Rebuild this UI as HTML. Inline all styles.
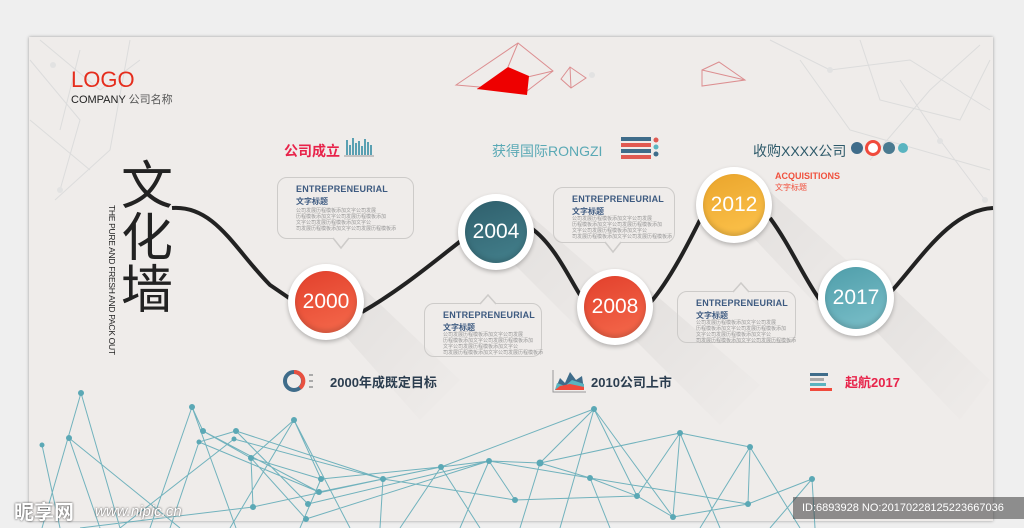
<!DOCTYPE html>
<html><head><meta charset="utf-8"><style>
*{margin:0;padding:0;box-sizing:border-box}
body{width:1024px;height:528px;background:#efefef;position:relative;overflow:hidden;font-family:"Liberation Sans","Noto Sans CJK SC",sans-serif}
.panel{position:absolute;left:29px;top:37px;width:964px;height:484px;background:#efecea;box-shadow:0 0 3px rgba(0,0,0,.35)}
.a{position:absolute;white-space:nowrap}
.bub{position:absolute;border:1.5px solid #cdcbc9;border-radius:10px}
.bub .t{position:absolute;left:18px;top:6px;font-size:9px;font-weight:bold;color:#3d5a80;letter-spacing:.2px;white-space:nowrap}
.bub .s{position:absolute;left:18px;top:18px;font-size:8px;font-weight:bold;color:#3d5a80;white-space:nowrap}
.bub .l{position:absolute;left:18px;top:30px;font-size:10px;line-height:12px;color:#999;transform:scale(.5);transform-origin:0 0;white-space:nowrap}
.yr{position:absolute;width:76px;height:76px;border-radius:50%;background:#fff;box-shadow:0 2px 4px rgba(0,0,0,.25)}
.yr div{position:absolute;left:7px;top:7px;width:62px;height:62px;border-radius:50%;color:#fff;font-size:21px;text-align:center;line-height:62px;box-shadow:inset 0 -3px 5px rgba(0,0,0,.15)}
</style></head><body>
<div class="panel"></div>
<svg class="a" style="left:0;top:0" width="1024" height="528">
<defs><linearGradient id="sh" x1="0" y1="0" x2="1" y2="1"><stop offset="0" stop-color="#000" stop-opacity=".05"/><stop offset="1" stop-color="#000" stop-opacity="0"/></linearGradient></defs>
<g fill="url(#sh)">
<polygon points="340,330 360,285 460,380 420,420"/>
<polygon points="510,260 530,215 640,310 600,350"/>
<polygon points="630,335 650,290 760,385 720,425"/>
<polygon points="748,232 768,190 880,290 840,330"/>
<polygon points="870,325 890,285 990,380 960,420"/>
</g>
<g stroke="#dcdcdc" stroke-width="1" fill="none">
<path d="M30,60 L80,120 L60,190 M40,40 L100,90 L140,60 M55,200 L110,150 L130,40 M30,120 L90,170 M80,50 L60,130"/>
<path d="M770,40 L830,70 L910,60 L990,110 M860,40 L880,100 L960,120 L990,60 M800,60 L850,130 L990,170 M900,80 L940,140 L985,200 M980,45 L930,90 L870,160"/>
</g>
<g fill="#e2e2e2"><circle cx="53" cy="65" r="3"/><circle cx="60" cy="190" r="3"/><circle cx="830" cy="70" r="3"/><circle cx="940" cy="141" r="3"/><circle cx="985" cy="200" r="3"/><circle cx="592" cy="75" r="3"/></g>
<g stroke="#dc8e90" stroke-width="1" fill="none">
<polygon points="456,85 518,43 553,71 527,91"/><polyline points="508,67 518,43"/><polyline points="477,89 553,71"/>
<polygon points="561,79 570,67 586,78 571,88"/><line x1="570" y1="67" x2="571" y2="88"/>
<polygon points="702,70 719,62 745,80 702,86"/><line x1="702" y1="70" x2="745" y2="80"/>
</g>
<polygon points="477,89 508,67 529,76 527,95" fill="#e00"/>
<path d="M172,208 C215,205 235,250 270,285 L292,300 M362,312 C400,290 430,265 462,240 M531,228 C555,245 570,280 582,298 M650,303 C670,280 690,240 700,220 M770,218 C790,245 805,280 820,300 M890,293 C920,260 950,210 993,208" stroke="#222" stroke-width="4" fill="none"/>
<g stroke="#5ba8b5" stroke-width="1" fill="none" opacity=".85">
<path d="M81,393 L120,528 M81,393 L42,528 M192,407 L150,528 M192,407 L203,431 L251,458 L321,479 M192,407 L236,528 M42,445 L60,528 M69,438 L180,528 M69,438 L100,528 M203,431 L319,492 M236,431 L199,442 L170,528 M236,431 L308,504 M234,439 L120,528 M234,439 L383,479 M294,420 L251,458 M294,420 L321,479 M294,420 L230,528 M294,420 L350,528 M251,458 L306,519 M251,458 L253,507 M321,479 L441,467 M319,492 L383,479 M319,492 L441,467 M308,504 L489,461 M253,507 L383,479 M253,507 L80,528 M383,479 L441,467 L489,461 L540,463 L590,478 L637,496 L673,517 M441,467 L594,409 M441,467 L400,528 M441,467 L480,528 M489,461 L515,500 M540,463 L594,409 M540,463 L680,433 M489,461 L590,478 M383,479 L515,500 L637,496 M594,409 L637,496 M594,409 L673,517 M594,409 L560,528 M680,433 L750,447 M680,433 L673,517 M680,433 L637,496 M680,433 L720,528 M750,447 L748,504 M750,447 L700,528 M750,447 L800,528 M812,479 L748,504 L673,517 M812,479 L770,528 M812,479 L815,528 M748,504 L590,478 M540,463 L520,528 M489,461 L460,528 M383,479 L380,528 M321,479 L300,528 M306,519 L489,461 M199,442 L319,492 M236,431 L383,479 M590,478 L610,528 M680,433 L540,463"/>
</g>
<g fill="#5ba8b5">
<circle cx="81" cy="393" r="3"/><circle cx="192" cy="407" r="3"/><circle cx="42" cy="445" r="2.5"/><circle cx="69" cy="438" r="3"/><circle cx="203" cy="431" r="3"/><circle cx="236" cy="431" r="3"/><circle cx="199" cy="442" r="2.5"/><circle cx="234" cy="439" r="2.5"/><circle cx="294" cy="420" r="3"/><circle cx="251" cy="458" r="3"/><circle cx="321" cy="479" r="3"/><circle cx="319" cy="492" r="3"/><circle cx="308" cy="504" r="3"/><circle cx="253" cy="507" r="3"/><circle cx="383" cy="479" r="3"/><circle cx="441" cy="467" r="3"/><circle cx="489" cy="461" r="3"/><circle cx="540" cy="463" r="3.5"/><circle cx="594" cy="409" r="3"/><circle cx="680" cy="433" r="3"/><circle cx="750" cy="447" r="3"/><circle cx="590" cy="478" r="3"/><circle cx="637" cy="496" r="3"/><circle cx="515" cy="500" r="3"/><circle cx="812" cy="479" r="3"/><circle cx="748" cy="504" r="3"/><circle cx="673" cy="517" r="3"/><circle cx="306" cy="519" r="3"/>
</g>
<g fill="#5aa0b2"><rect x="346" y="140" width="2" height="15"/><rect x="349" y="145" width="2" height="10"/><rect x="352" y="138" width="2" height="17"/><rect x="355" y="143" width="2" height="12"/><rect x="358" y="141" width="2" height="14"/><rect x="361" y="146" width="2" height="9"/><rect x="364" y="139" width="2" height="16"/><rect x="367" y="142" width="2" height="13"/><rect x="370" y="145" width="2" height="10"/></g>
<line x1="344" y1="156" x2="374" y2="156" stroke="#999"/>
<g><rect x="621" y="137" width="30" height="4" fill="#3f6c8a"/><rect x="621" y="143" width="30" height="4" fill="#e05a52"/><rect x="621" y="149" width="30" height="4" fill="#3f6c8a"/><rect x="621" y="155" width="30" height="4" fill="#e05a52"/></g>
<circle cx="656" cy="140" r="2.5" fill="#e05a52"/><circle cx="656" cy="147" r="2.5" fill="#5ab4c0"/><circle cx="656" cy="154" r="2.5" fill="#3f6c8a"/>
<circle cx="857" cy="148" r="6" fill="#3f6c8a"/><circle cx="873" cy="148" r="8" fill="#f04a3c"/><circle cx="873" cy="148" r="5" fill="#fff"/><circle cx="889" cy="148" r="6" fill="#4a7a90"/><circle cx="903" cy="148" r="5" fill="#5ab4c0"/>
<circle cx="294" cy="381" r="9" fill="none" stroke="#3f6c8a" stroke-width="4"/><path d="M294,372 A9,9 0 0,1 300,388" stroke="#e85040" stroke-width="4" fill="none"/>
<g fill="#aaa"><rect x="309" y="374" width="4" height="2"/><rect x="309" y="380" width="4" height="2"/><rect x="309" y="386" width="4" height="2"/></g>
<polygon points="555,390 560,378 565,383 570,372 576,380 582,376 584,390" fill="#3f6c8a"/><polygon points="555,390 557,383 565,386 572,380 584,384 584,390" fill="#5ab4c0"/><polygon points="555,390 560,386 570,384 584,387 584,390" fill="#f04a3c"/><path d="M553,370 L553,392 L586,392" stroke="#999" fill="none"/>
<g><rect x="810" y="373" width="18" height="3" fill="#3f6c8a"/><rect x="810" y="378" width="14" height="3" fill="#aaa"/><rect x="810" y="383" width="16" height="3" fill="#5ab4c0"/><rect x="810" y="388" width="22" height="3" fill="#f04a3c"/></g>
</svg>

<div class="a" style="left:71px;top:67px;font-size:22px;color:#e52d1d;">LOGO</div>
<div class="a" style="left:71px;top:91px;font-size:11px;color:#222">COMPANY <span style="color:#555">公司名称</span></div>
<div class="a" style="left:121px;top:161px;font-size:52px;line-height:52px;width:56px;white-space:normal;color:#222">文<br>化<br>墙</div>
<div class="a" style="left:107px;top:205px;font-size:8.5px;writing-mode:vertical-rl;color:#222;letter-spacing:-.3px">THE PURE AND FRESH AND PACK OUT</div>

<div class="a" style="left:284px;top:141px;font-size:14px;font-weight:bold;color:#e8234a">公司成立</div>
<div class="a" style="left:492px;top:141px;font-size:14px;color:#5aa9b5">获得国际RONGZI</div>
<div class="a" style="left:753px;top:141px;font-size:14px;color:#2e5a6a">收购XXXX公司</div>
<div class="a" style="left:775px;top:171px;font-size:9px;font-weight:bold;color:#f0513e">ACQUISITIONS</div>
<div class="a" style="left:775px;top:182px;font-size:8px;color:#f0513e">文字标题</div>

<div class="bub" style="left:277px;top:177px;width:137px;height:62px"><div class="t">ENTREPRENEURIAL</div><div class="s">文字标题</div><div class="l">公司发展历程模板添加文字公司发展<br>历程模板添加文字公司发展历程模板添加<br>文字公司发展历程模板添加文字公<br>司发展历程模板添加文字公司发展历程模板添</div></div>
<div class="bub" style="left:424px;top:303px;width:118px;height:54px"><div class="t">ENTREPRENEURIAL</div><div class="s">文字标题</div><div class="l" style="top:28px">公司发展历程模板添加文字公司发展<br>历程模板添加文字公司发展历程模板添加<br>文字公司发展历程模板添加文字公<br>司发展历程模板添加文字公司发展历程模板添</div></div>
<div class="bub" style="left:553px;top:187px;width:122px;height:56px"><div class="t">ENTREPRENEURIAL</div><div class="s">文字标题</div><div class="l" style="top:28px">公司发展历程模板添加文字公司发展<br>历程模板添加文字公司发展历程模板添加<br>文字公司发展历程模板添加文字公<br>司发展历程模板添加文字公司发展历程模板添</div></div>
<div class="bub" style="left:677px;top:291px;width:119px;height:52px"><div class="t">ENTREPRENEURIAL</div><div class="s">文字标题</div><div class="l" style="top:28px">公司发展历程模板添加文字公司发展<br>历程模板添加文字公司发展历程模板添加<br>文字公司发展历程模板添加文字公<br>司发展历程模板添加文字公司发展历程模板添</div></div>
<svg class="a" style="left:0;top:0" width="1024" height="528"><g fill="#efecea" stroke="#cdcbc9" stroke-width="1.5">
<path d="M333,238 L341,248 L349,238"/><path d="M480,304 L488,295 L496,304"/><path d="M605,242 L613,252 L621,242"/><path d="M733,292 L741,283 L749,292"/></g></svg>

<div class="yr" style="left:288px;top:264px"><div style="background:linear-gradient(160deg,#e2402c,#f56a4c)">2000</div></div>
<div class="yr" style="left:458px;top:194px"><div style="background:linear-gradient(160deg,#2f5f6c,#44818d)">2004</div></div>
<div class="yr" style="left:577px;top:269px"><div style="background:linear-gradient(160deg,#e2402c,#f56a4c)">2008</div></div>
<div class="yr" style="left:696px;top:167px"><div style="background:linear-gradient(160deg,#eaa52c,#fdc34c)">2012</div></div>
<div class="yr" style="left:818px;top:260px"><div style="background:linear-gradient(160deg,#4f9eaa,#7cc0ca)">2017</div></div>

<div class="a" style="left:330px;top:372px;font-size:13px;font-weight:bold;color:#2b3d4f">2000年成既定目标</div>
<div class="a" style="left:591px;top:372px;font-size:13px;font-weight:bold;color:#2b3d4f">2010公司上市</div>
<div class="a" style="left:845px;top:372px;font-size:13px;font-weight:bold;color:#e8234a">起航2017</div>

<div class="a" style="left:14px;top:496px;font-size:20px;font-weight:bold;color:#fff;text-shadow:0 0 2px #333">昵享网</div>
<div class="a" style="left:95px;top:503px;font-size:15px;font-style:italic;color:#fff;text-shadow:0 0 2px #333">www.nipic.cn</div>
<div class="a" style="left:793px;top:497px;width:231px;height:22px;background:rgba(60,60,60,.55);color:#fff;font-size:11px;line-height:22px;padding-left:9px">ID:6893928 NO:20170228125223667036</div>
</body></html>
